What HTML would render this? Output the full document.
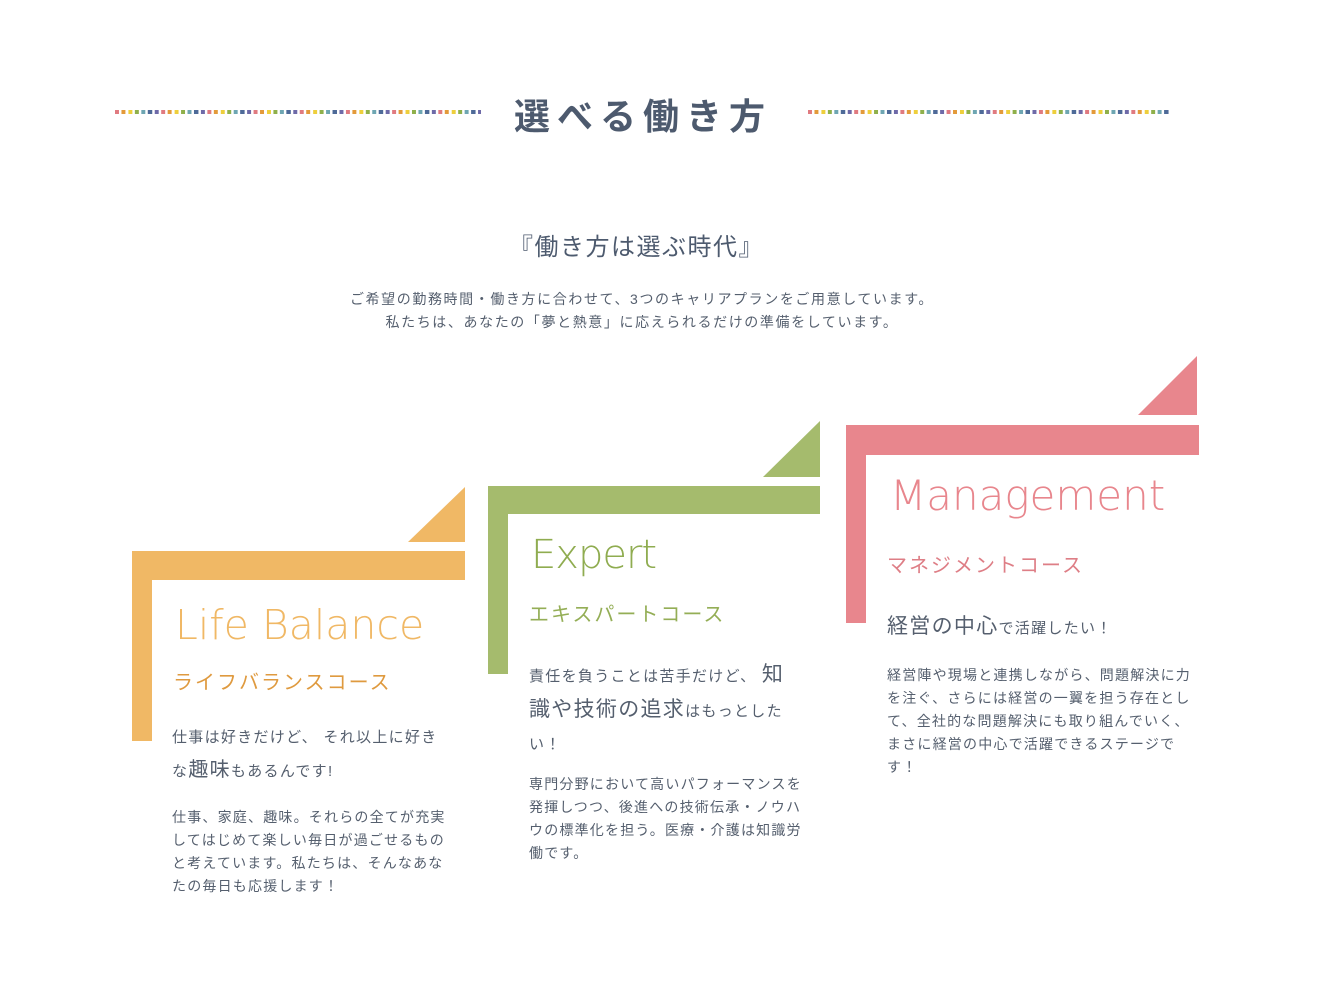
<!DOCTYPE html>
<html><head><meta charset="utf-8">
<style>
body{margin:0;background:#fff;width:1320px;height:1005px;position:relative;overflow:hidden;font-family:"Liberation Sans","Noto Sans CJK JP",sans-serif;color:#555f6e}
.a{position:absolute;white-space:nowrap}
.dots{position:absolute;height:4px;top:110px;background:linear-gradient(90deg,#e07a80 0 4px,transparent 4px 6.6px,#e39a3a 6.6px 10.6px,transparent 10.6px 13.2px,#eecf3c 13.2px 17.2px,transparent 17.2px 19.8px,#8fb04a 19.8px 23.8px,transparent 23.8px 26.4px,#6ea6b2 26.4px 30.4px,transparent 30.4px 33px,#4e6a98 33px 37px,transparent 37px 39.6px,#6e6aa8 39.6px 43.6px,transparent 43.6px 46.2px);background-size:46.2px 4px}
.en{font-family:"DejaVu Sans","Liberation Sans",sans-serif;font-weight:200}
.bd{font-size:14px;line-height:23px;letter-spacing:1px}
</style></head><body>
<div class="dots" style="left:115px;width:366px"></div>
<div class="dots" style="left:808px;width:363px"></div>
<div class="a" style="left:514px;top:88px;font-size:36px;font-weight:bold;letter-spacing:7px;color:#4d5a6e">選べる働き方</div>
<div class="a" style="left:509px;top:227px;font-size:24px;letter-spacing:1.5px;color:#4d5a6e">『働き方は選ぶ時代』</div>
<div class="a" style="left:0;width:1284px;top:288px;font-size:14px;line-height:23px;text-align:center;letter-spacing:1.6px">ご希望の勤務時間・働き方に合わせて、3つのキャリアプランをご用意しています。<br>私たちは、あなたの「夢と熱意」に応えられるだけの準備をしています。</div>

<svg class="a" style="left:0;top:0" width="1320" height="1005">
<g fill="#f0b865"><rect x="132" y="551" width="333" height="29"/><rect x="132" y="551" width="20" height="190"/><polygon points="408,542 465,487 465,542"/></g>
<g fill="#a5bb6d"><rect x="488" y="486" width="332" height="28"/><rect x="488" y="486" width="20" height="188"/><polygon points="763,477 820,421 820,477"/></g>
<g fill="#e8868d"><rect x="846" y="425" width="353" height="30"/><rect x="846" y="425" width="20" height="198"/><polygon points="1138,415 1197,356 1197,415"/></g>
</svg>

<div class="a en" style="left:175px;top:601px;font-size:41px;color:#f0b865;letter-spacing:0px">Life Balance</div>
<div class="a" style="left:173px;top:666px;font-size:20px;color:#df9a3f;letter-spacing:2px">ライフバランスコース</div>
<div class="a" style="left:172px;top:722px;font-size:15px;line-height:32px;letter-spacing:1.3px">仕事は好きだけど、 それ以上に好き<br>な<span style="font-size:20px">趣味</span>もあるんです!</div>
<div class="a bd" style="left:172px;top:806px;letter-spacing:1.2px">仕事、家庭、趣味。それらの全てが充実<br>してはじめて楽しい毎日が過ごせるもの<br>と考えています。私たちは、そんなあな<br>たの毎日も応援します！</div>

<div class="a en" style="left:531px;top:532px;font-size:40px;color:#8fac50;letter-spacing:-1px">Expert</div>
<div class="a" style="left:529px;top:598px;font-size:20px;color:#94ae56;letter-spacing:2px">エキスパートコース</div>
<div class="a" style="left:529px;top:658px;font-size:15px;line-height:33px;letter-spacing:1.3px">責任を負うことは苦手だけど、 <span style="font-size:21px">知</span><br><span style="font-size:21px">識や技術の追求</span>はもっとした<br><span style="line-height:20px">い！</span></div>
<div class="a bd" style="left:529px;top:773px;letter-spacing:1.2px">専門分野において高いパフォーマンスを<br>発揮しつつ、後進への技術伝承・ノウハ<br>ウの標準化を担う。医療・介護は知識労<br>働です。</div>

<div class="a en" style="left:890px;top:471px;font-size:42px;color:#e8868d;letter-spacing:0px">Management</div>
<div class="a" style="left:887px;top:549px;font-size:20px;color:#de7e86;letter-spacing:2px">マネジメントコース</div>
<div class="a" style="left:887px;top:610px;font-size:15px;letter-spacing:1.3px"><span style="font-size:21px">経営の中心</span>で活躍したい！</div>
<div class="a bd" style="left:887px;top:664px;letter-spacing:1.2px">経営陣や現場と連携しながら、問題解決に力<br>を注ぐ、さらには経営の一翼を担う存在とし<br>て、全社的な問題解決にも取り組んでいく、<br>まさに経営の中心で活躍できるステージで<br>す！</div>
</body></html>
